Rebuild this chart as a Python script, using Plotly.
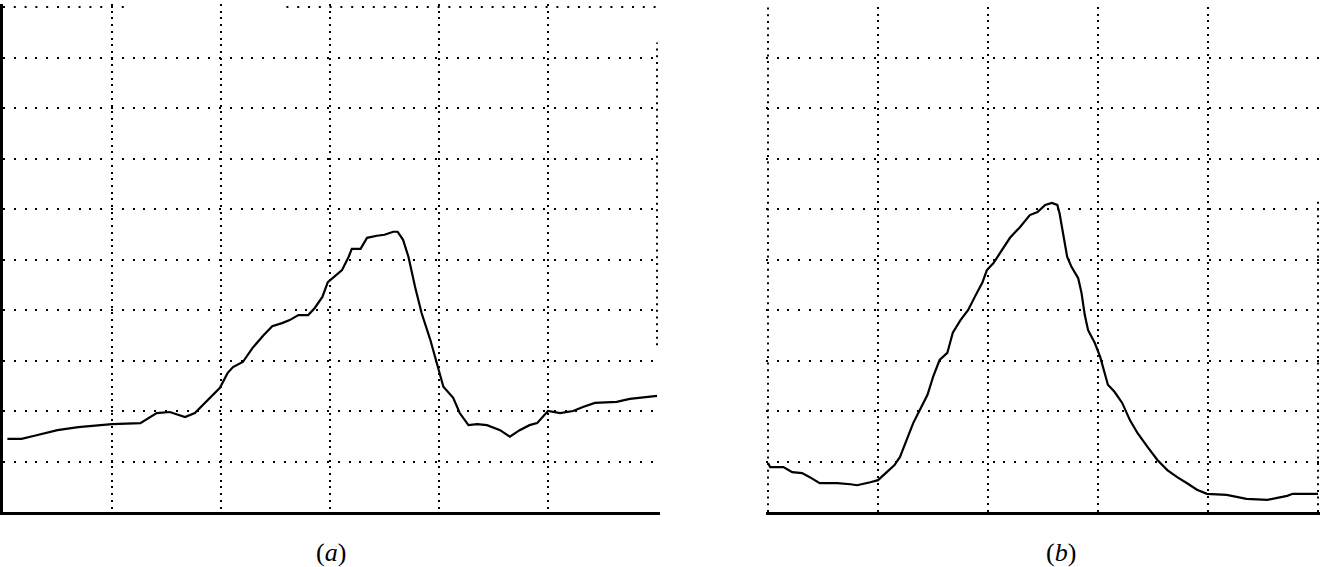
import plotly.graph_objects as go

# ---------------- data (grid-division units) ----------------
# panel (a): x in 0..6 divisions, y in 0..10 divisions
xa = [0.04, 0.17, 0.27, 0.40, 0.50, 0.69, 0.89, 1.00, 1.26, 1.41,
      1.53, 1.67, 1.76, 1.99, 2.06, 2.11, 2.20, 2.29, 2.39, 2.47,
      2.56, 2.63, 2.71, 2.80, 2.86, 2.93, 2.98, 3.11, 3.17, 3.20,
      3.28, 3.34, 3.43, 3.50, 3.58, 3.62, 3.67, 3.72, 3.78, 3.84,
      3.92, 3.98, 4.04, 4.13, 4.19, 4.27, 4.35, 4.44, 4.56, 4.65,
      4.74, 4.83, 4.90, 5.00, 5.11, 5.23, 5.32, 5.43, 5.63, 5.75,
      5.91, 6.00]
ya = [1.45, 1.45, 1.50, 1.56, 1.62, 1.68, 1.72, 1.74, 1.76, 1.96,
      1.98, 1.88, 1.96, 2.46, 2.75, 2.87, 2.97, 3.25, 3.50, 3.68,
      3.74, 3.80, 3.90, 3.90, 4.04, 4.26, 4.55, 4.79, 5.05, 5.21,
      5.21, 5.43, 5.47, 5.49, 5.55, 5.55, 5.39, 5.05, 4.46, 3.94,
      3.41, 2.95, 2.48, 2.26, 1.96, 1.72, 1.74, 1.72, 1.62, 1.49,
      1.62, 1.72, 1.76, 2.00, 1.96, 2.00, 2.08, 2.16, 2.18, 2.24,
      2.28, 2.30]

# panel (b): x in 0..5 divisions, y in 0..10 divisions
xb = [0.00, 0.02, 0.14, 0.22, 0.31, 0.38, 0.47, 0.63, 0.75, 0.81,
      0.93, 1.00, 1.08, 1.15, 1.20, 1.25, 1.32, 1.38, 1.45, 1.50,
      1.56, 1.63, 1.68, 1.75, 1.82, 1.88, 1.95, 1.99, 2.05, 2.11,
      2.20, 2.29, 2.38, 2.45, 2.52, 2.58, 2.63, 2.65, 2.68, 2.72,
      2.76, 2.82, 2.85, 2.88, 2.91, 2.97, 3.02, 3.06, 3.09, 3.15,
      3.22, 3.29, 3.36, 3.45, 3.54, 3.63, 3.72, 3.81, 3.90, 3.99,
      4.17, 4.35, 4.54, 4.63, 4.72, 4.77, 5.00]
yb = [0.97, 0.89, 0.89, 0.79, 0.77, 0.69, 0.57, 0.57, 0.55, 0.53,
      0.59, 0.63, 0.79, 0.93, 1.09, 1.37, 1.76, 2.02, 2.32, 2.67,
      3.01, 3.15, 3.55, 3.80, 4.00, 4.26, 4.55, 4.79, 4.93, 5.13,
      5.43, 5.64, 5.88, 5.94, 6.08, 6.12, 6.08, 5.92, 5.52, 5.05,
      4.85, 4.63, 4.34, 3.90, 3.60, 3.35, 3.07, 2.75, 2.52, 2.38,
      2.16, 1.82, 1.56, 1.29, 1.03, 0.83, 0.69, 0.57, 0.44, 0.36,
      0.34, 0.26, 0.24, 0.28, 0.32, 0.36, 0.36]

xa_grid = [1, 2, 3, 4, 5]
xb_grid = [1, 2, 3, 4]
y_grid = [1, 2, 3, 4, 5, 6, 7, 8, 9]
labels = ["(<i>a</i>)", "(<i>b</i>)"]

# ---------------- figure ----------------
W, H = 1329, 567
HDASH = "2px,8.8px"   # horizontal dotted grid
VDASH = "2px,4.7px"   # vertical dotted grid

fig = go.Figure()

# partial edge grid lines (faded in the scan)
fig.add_trace(go.Scatter(x=[0, 1.13, None, 2.6, 6], y=[10, 10, None, 10, 10],
                         mode="lines", line=dict(color="black", width=2, dash=HDASH),
                         xaxis="x", yaxis="y", hoverinfo="skip", showlegend=False))
fig.add_trace(go.Scatter(x=[6, 6], y=[3.3, 9.3],
                         mode="lines", line=dict(color="black", width=2, dash=VDASH),
                         xaxis="x", yaxis="y", hoverinfo="skip", showlegend=False))
fig.add_trace(go.Scatter(x=[0, 0], y=[0, 10],
                         mode="lines", line=dict(color="black", width=2, dash=VDASH),
                         xaxis="x2", yaxis="y2", hoverinfo="skip", showlegend=False))
fig.add_trace(go.Scatter(x=[5, 5], y=[0, 6.2],
                         mode="lines", line=dict(color="black", width=2, dash=VDASH),
                         xaxis="x2", yaxis="y2", hoverinfo="skip", showlegend=False))

# curves
fig.add_trace(go.Scatter(x=xa, y=ya, mode="lines",
                         line=dict(color="black", width=2.2),
                         xaxis="x", yaxis="y", showlegend=False))
fig.add_trace(go.Scatter(x=xb, y=yb, mode="lines",
                         line=dict(color="black", width=2.2),
                         xaxis="x2", yaxis="y2", showlegend=False))

ybot = (H - 512) / H
common = dict(showticklabels=False, ticks="", zeroline=False,
              gridcolor="black", gridwidth=2, fixedrange=True)

fig.update_layout(
    width=W, height=H,
    margin=dict(l=0, r=0, t=0, b=0),
    paper_bgcolor="white", plot_bgcolor="white",
    showlegend=False,
    xaxis=dict(domain=[3 / W, 660.3 / W], range=[0, 6.03],
               tickvals=xa_grid, showgrid=True, griddash=VDASH,
               showline=True, linecolor="black", linewidth=2.5,
               anchor="y", **common),
    yaxis=dict(domain=[ybot, (H - 4) / H], range=[0, 10.06],
               tickvals=y_grid, showgrid=True, griddash=HDASH,
               showline=True, linecolor="black", linewidth=2.5,
               anchor="x", **common),
    xaxis2=dict(domain=[765.8 / W, 1320.2 / W], range=[-0.02, 5.02],
                tickvals=xb_grid, showgrid=True, griddash=VDASH,
                showline=True, linecolor="black", linewidth=2.5,
                anchor="y2", **common),
    yaxis2=dict(domain=[ybot, (H - 7) / H], range=[0, 10],
                tickvals=y_grid, showgrid=True, griddash=HDASH,
                showline=False, anchor="x2", **common),
    annotations=[
        dict(text=labels[0], x=331 / W, y=(H - 552) / H, xref="paper", yref="paper",
             showarrow=False, xanchor="center", yanchor="middle",
             font=dict(family="Liberation Serif", size=26, color="black")),
        dict(text=labels[1], x=1061 / W, y=(H - 552) / H, xref="paper", yref="paper",
             showarrow=False, xanchor="center", yanchor="middle",
             font=dict(family="Liberation Serif", size=26, color="black")),
    ],
)

fig.write_html("out.html")
